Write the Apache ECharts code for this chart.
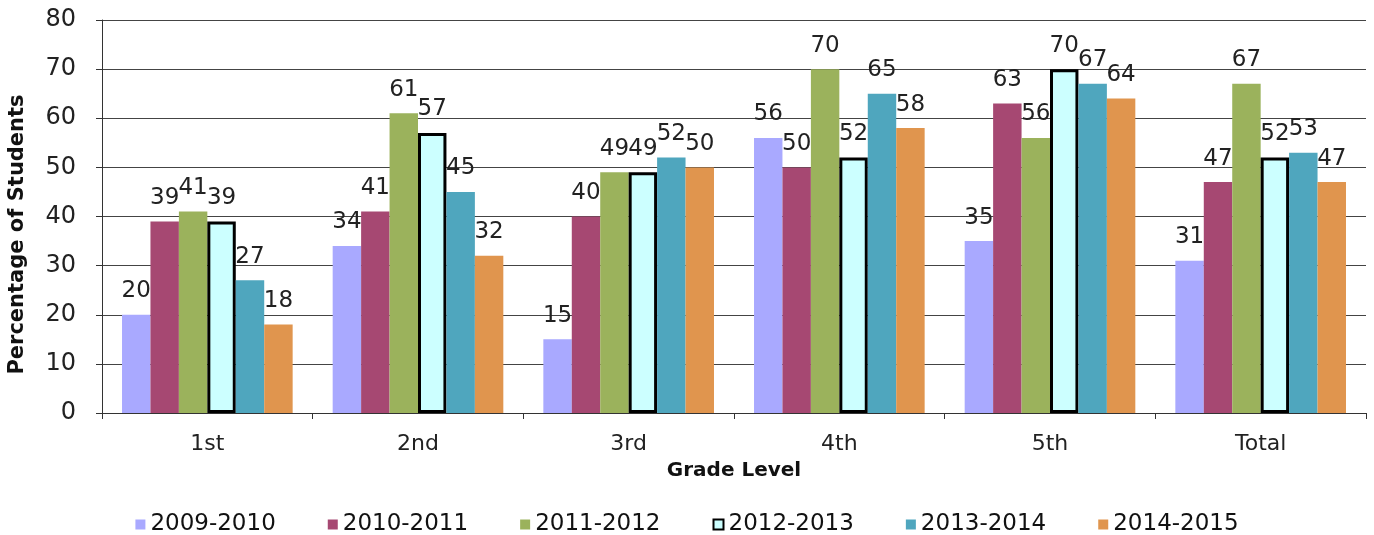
<!DOCTYPE html>
<html>
<head>
<meta charset="utf-8">
<script src="https://cdn.jsdelivr.net/npm/echarts@6/dist/echarts.min.js"></script>
<style>
html, body { margin: 0; padding: 0; background: #fff; }
#chart { width: 1374px; height: 535px; }
</style>
</head>
<body>
<div id="chart"></div>
<script>
var grades = ['1st', '2nd', '3rd', '4th', '5th', 'Total'];
var years = ['2009-2010', '2010-2011', '2011-2012', '2012-2013', '2013-2014', '2014-2015'];
var y2009 = [20, 34, 15, 56, 35, 31];
var y2010 = [39, 41, 40, 50, 63, 47];
var y2011 = [41, 61, 49, 70, 56, 67];
var y2012 = [39, 57, 49, 52, 70, 52];
var y2013 = [27, 45, 52, 65, 67, 53];
var y2014 = [18, 32, 50, 58, 64, 47];

var values = [y2009, y2010, y2011, y2012, y2013, y2014];
var colors = ['#a9a9ff', '#a64872', '#9bb25c', '#ccffff', '#4fa6be', '#e0954e'];
var fontName = 'DejaVu Sans';

var chart = echarts.init(document.getElementById('chart'));

var series = [];
for (var i = 0; i < years.length; i++) {
	var style = { color: colors[i] };
	if (i == 3) {
		// 2012-2013 has black outline
		style.borderColor = '#000';
		style.borderWidth = 3;
	}
	series.push({
		name: years[i],
		type: 'bar',
		data: values[i],
		barGap: 0,
		barCategoryGap: '19%',
		itemStyle: style,
		label: {
			show: true,
			position: 'top',
			distance: 12,
			color: '#222',
			fontFamily: fontName,
			fontSize: 23
		}
	});
}

chart.setOption({
	animation: false,
	backgroundColor: '#fff',
	textStyle: { fontFamily: fontName },
	grid: { left: 102, right: 8, top: 20, bottom: 122, outerBoundsMode: 'none' },
	legend: {
		data: years,
		top: 508,
		left: 'center',
		icon: 'rect',
		itemWidth: 10,
		itemHeight: 10,
		itemGap: 52,
		textStyle: { fontFamily: fontName, fontSize: 23, color: '#111' }
	},
	xAxis: {
		type: 'category',
		data: grades,
		name: 'Grade Level',
		nameLocation: 'middle',
		nameGap: 48,
		nameTextStyle: { fontFamily: fontName, fontSize: 20, fontWeight: 'bold', color: '#111' },
		axisLine: { lineStyle: { color: '#333', width: 1 } },
		axisTick: { show: true, length: 6, lineStyle: { color: '#333' } },
		axisLabel: { fontFamily: fontName, fontSize: 22, color: '#222', margin: 20 }
	},
	yAxis: {
		type: 'value',
		min: 0,
		max: 80,
		interval: 10,
		name: 'Percentage of Students',
		nameLocation: 'middle',
		nameGap: 74,
		nameTextStyle: {
			fontFamily: fontName,
			fontSize: 21,
			fontWeight: 'bold',
			color: '#111',
			padding: [0, 36, 0, 0] // nudge it a little lower, like the original
		},
		axisLine: { show: true, lineStyle: { color: '#333', width: 1 } },
		axisTick: { show: true, length: 6, lineStyle: { color: '#333' } },
		axisLabel: { fontFamily: fontName, fontSize: 24, color: '#222', margin: 26 },
		splitLine: { lineStyle: { color: '#444', width: 1 } }
	},
	series: series
});
</script>
</body>
</html>
